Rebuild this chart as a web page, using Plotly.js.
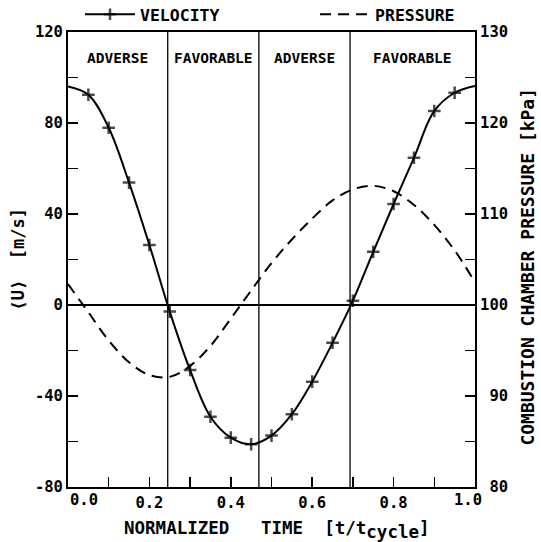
<!DOCTYPE html>
<html><head><meta charset="utf-8">
<script src="https://cdn.plot.ly/plotly-3.0.1.min.js"></script>
<style>html,body{margin:0;padding:0;background:#fff}#chart{width:541px;height:542px}</style>
</head><body><div id="chart"></div>
<script>
// ---- data ----
const time = [0, 0.05, 0.10, 0.15, 0.20, 0.25, 0.30, 0.35, 0.40, 0.45, 0.50,
              0.55, 0.60, 0.65, 0.70, 0.75, 0.80, 0.85, 0.90, 0.95, 1.0];
const velocity = [96.0, 92.4, 77.9, 53.8, 26.4, -2.9, -28.6, -49.1, -58.3, -61.2, -57.4,
                  -48.0, -33.7, -16.6, 1.9, 23.4, 44.4, 64.7, 85.3, 93.3, 96.3];
const pressure = [102.3, 99.2, 96.1, 93.7, 92.3, 92.1, 93.3, 95.5, 98.5, 101.6, 104.6,
                  107.2, 109.5, 111.5, 112.7, 113.1, 112.5, 111.0, 108.8, 106.0, 102.5];
const boundaries = [0.245, 0.469, 0.693];
const regionLabels = ['ADVERSE', 'FAVORABLE', 'ADVERSE', 'FAVORABLE'];
const xTickVals = [0, 0.1, 0.2, 0.3, 0.4, 0.5, 0.6, 0.7, 0.8, 0.9, 1.0];
const xTickText = ['0.0', '', '0.2', '', '0.4', '', '0.6', '', '0.8', '', '1.0'];
const yTickVals = [-80, -60, -40, -20, 0, 20, 40, 60, 80, 100, 120];
const yTickText = ['-80', '', '-40', '', '0', '', '40', '', '80', '', '120'];
const y2TickVals = [80, 85, 90, 95, 100, 105, 110, 115, 120, 125, 130];
const y2TickText = ['\u00A080', '', '\u00A090', '', '100', '', '110', '', '120', '', '130'];
const seriesNames = ['VELOCITY', 'PRESSURE'];
const xTitle = 'NORMALIZED\u00A0\u00A0\u00A0TIME\u00A0\u00A0[t/t<sub><span style="font-size:17.5px">cycle</span></sub>]';
const yTitle = '\u27E8U\u27E9\u00A0\u00A0[m/s]';
const y2Title = 'COMBUSTION CHAMBER PRESSURE [kPa]';

// ---- figure ----
const FONT = 'DejaVu Sans Mono';
const markerSizes = time.map(t => (t === 0 || t === 1) ? 0 : 9);
const tickFont = {family: FONT, size: 15.5, color: 'black', weight: 'bold'};

const traces = [
  {
    x: time, y: velocity, name: seriesNames[0], type: 'scatter', mode: 'lines+markers',
    line: {color: 'black', width: 2, shape: 'spline'},
    marker: {symbol: 'cross-thin', size: markerSizes, color: 'black', line: {color: 'black', width: 2.5}},
    legend: 'legend', showlegend: true
  },
  {
    x: time, y: pressure, name: seriesNames[1], type: 'scatter', mode: 'lines', yaxis: 'y2',
    line: {color: 'black', width: 2, dash: '11px,7px', shape: 'spline'},
    legend: 'legend2', showlegend: true
  }
];

const edges = [0].concat(boundaries, [1]);
const annotations = regionLabels.map((lab, i) => ({
  text: lab, x: (edges[i] + edges[i + 1]) / 2, xref: 'x', y: 0.943, yref: 'paper',
  showarrow: false, xanchor: 'center', yanchor: 'middle',
  font: {family: FONT, size: 14.5, color: 'black', weight: 'bold'}
}));
// end tick labels of the time axis sit inside the axis span, as in the original
annotations.push(
  {text: xTickText[0], x: xTickVals[0], xref: 'x', y: -0.0286, yref: 'paper', showarrow: false,
   xanchor: 'left', yanchor: 'middle', font: tickFont},
  {text: xTickText[xTickText.length - 1], x: xTickVals[xTickVals.length - 1], xref: 'x', y: -0.0286, yref: 'paper',
   showarrow: false, xanchor: 'right', xshift: 9, yanchor: 'middle', font: tickFont}
);
const axisTickText = xTickText.map((t, i) => (i === 0 || i === xTickText.length - 1) ? '' : t);
annotations.push(
  {text: xTitle, x: 0.5135, xref: 'paper', y: -0.064, yref: 'paper', showarrow: false,
   xanchor: 'center', yanchor: 'top', font: {family: FONT, size: 17.5, color: 'black', weight: 'bold'}},
  {text: yTitle, x: -0.123, xref: 'paper', y: 0.5, yref: 'paper', showarrow: false, textangle: -90,
   xanchor: 'center', yanchor: 'middle', font: {family: FONT, size: 17, color: 'black', weight: 'bold'}},
  {text: y2Title, x: 1.128, xref: 'paper', y: 0.4846, yref: 'paper', showarrow: false, textangle: -90,
   xanchor: 'center', yanchor: 'middle', font: {family: FONT, size: 18, color: 'black', weight: 'bold'}}
);

const shapes = boundaries.map(b => ({
  type: 'line', xref: 'x', yref: 'paper', x0: b, x1: b, y0: 0, y1: 1,
  line: {color: 'black', width: 1.3}
}));

const axisCommon = {
  showgrid: false, ticks: 'inside', ticklen: 10, tickwidth: 1.5, tickcolor: 'black',
  showline: true, linewidth: 2, linecolor: 'black', tickfont: tickFont
};

const legendCommon = {
  y: 1.0385, yanchor: 'middle', xanchor: 'left', orientation: 'h', itemwidth: 50,
  bgcolor: 'rgba(0,0,0,0)', font: {family: FONT, size: 16.5, color: 'black', weight: 'bold'}
};

const layout = {
  width: 541, height: 542,
  margin: {l: 68, r: 66, t: 32, b: 55, autoexpand: false},
  paper_bgcolor: 'white', plot_bgcolor: 'white',
  font: {family: FONT, color: 'black', weight: 'bold'},
  showlegend: true,
  xaxis: Object.assign({}, axisCommon, {
    range: [0, 1], tickmode: 'array', tickvals: xTickVals, ticktext: axisTickText,
    mirror: true, zeroline: false
  }),
  yaxis: Object.assign({}, axisCommon, {
    range: [-80, 120], tickmode: 'array', tickvals: yTickVals, ticktext: yTickText,
    zeroline: true, zerolinecolor: 'black', zerolinewidth: 1.3
  }),
  yaxis2: Object.assign({}, axisCommon, {
    range: [80, 130], tickmode: 'array', tickvals: y2TickVals, ticktext: y2TickText,
    overlaying: 'y', side: 'right', zeroline: false
  }),
  legend: Object.assign({}, legendCommon, {x: 0.0295}),
  legend2: Object.assign({}, legendCommon, {x: 0.607}),
  shapes: shapes,
  annotations: annotations
};

Plotly.newPlot('chart', traces, layout, {displayModeBar: false, staticPlot: true});
</script>
</body></html>
